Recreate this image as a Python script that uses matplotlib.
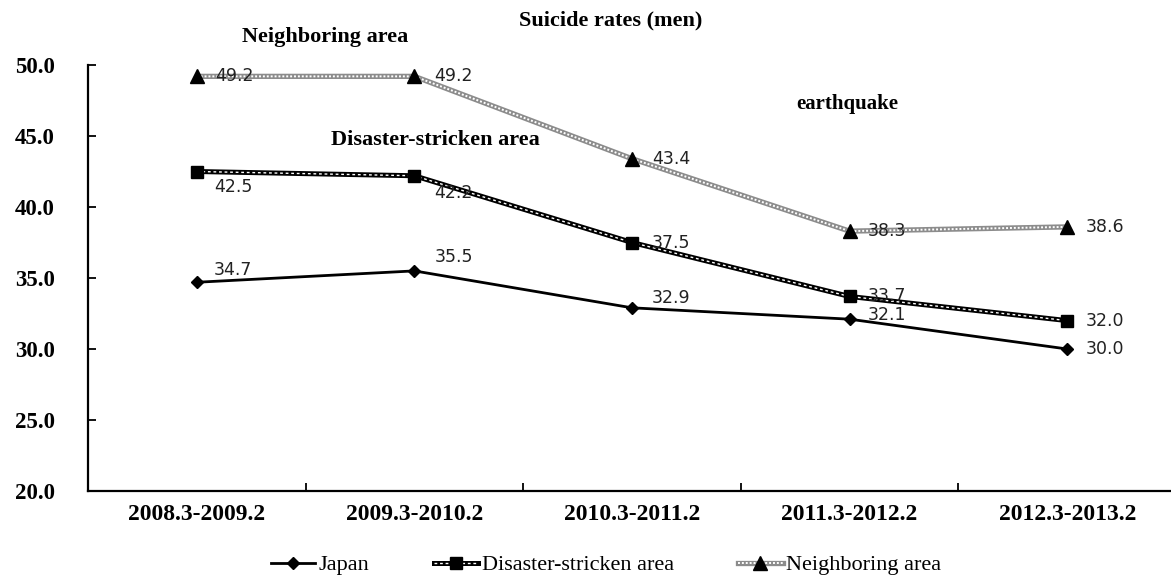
import matplotlib
matplotlib.use("Agg")
import matplotlib.pyplot as plt
from matplotlib.lines import Line2D

periods = ["2008.3-2009.2", "2009.3-2010.2", "2010.3-2011.2", "2011.3-2012.2", "2012.3-2013.2"]
japan = [34.7, 35.5, 32.9, 32.1, 30.0]
disaster = [42.5, 42.2, 37.5, 33.7, 32.0]
neighboring = [49.2, 49.2, 43.4, 38.3, 38.6]
yticks = [20.0, 25.0, 30.0, 35.0, 40.0, 45.0, 50.0]

SERIF = "Liberation Serif"
SANS = "DejaVu Sans"

fig = plt.figure(figsize=(11.71, 5.80), dpi=100)
ax = fig.add_axes([88 / 1171, 89 / 580, 1 - 88 / 1171, (491 - 65) / 580])

x = list(range(len(periods)))

# Japan: plain solid line with diamonds
ax.plot(x, japan, color="black", lw=2.0, marker="D", ms=6.5, zorder=4)

# Disaster-stricken area: black line with a dotted white core
ax.plot(x, disaster, color="black", lw=3.6, zorder=4, solid_capstyle="butt")
ax.plot(x, disaster, color="white", lw=1.0, ls=(0, (2, 2)), zorder=5)
ax.plot(x, disaster, ls="none", marker="s", ms=9, color="black", zorder=6)

# Neighboring area: grey double line with a dotted white core
ax.plot(x, neighboring, color="#8c8c8c", lw=3.8, zorder=4, solid_capstyle="butt")
ax.plot(x, neighboring, color="white", lw=1.4, ls=(0, (1, 1)), zorder=5)
ax.plot(x, neighboring, ls="none", marker="^", ms=10, color="black", zorder=6)

lab_kw = dict(fontsize=12.5, family=SANS, color="#222222", zorder=7)

# value labels
japan_off = [(17, 12), (20, 14), (20, 10), (18, 4), (18, 0)]
for xi, v, (dx, dy) in zip(x, japan, japan_off):
    ax.annotate(f"{v:.1f}", (xi, v), xytext=(dx, dy), textcoords="offset pixels",
                va="center", ha="left", **lab_kw)

disaster_off = [(17, -16), (20, -17), (20, 0), (18, 0), (18, 0)]
for xi, v, (dx, dy) in zip(x, disaster, disaster_off):
    ax.annotate(f"{v:.1f}", (xi, v), xytext=(dx, dy), textcoords="offset pixels",
                va="center", ha="left", **lab_kw)

neigh_off = [(18, 0), (20, 0), (20, 0), (18, 0), (18, 0)]
for xi, v, (dx, dy) in zip(x, neighboring, neigh_off):
    ax.annotate(f"{v:.1f}", (xi, v), xytext=(dx, dy), textcoords="offset pixels",
                va="center", ha="left", **lab_kw)

# axes styling
ax.set_ylim(20, 50)
ax.set_xlim(-0.5, 4.477)
ax.spines["top"].set_visible(False)
ax.spines["right"].set_visible(False)
for s in ("left", "bottom"):
    ax.spines[s].set_linewidth(1.6)

ax.set_yticks(yticks)
ax.set_yticklabels([f"{t:.1f}" for t in yticks], family=SERIF, fontweight="bold", fontsize=16.5)
ax.tick_params(axis="y", direction="in", length=6, width=1.3, pad=24)

ax.set_xticks([i + 0.5 for i in range(len(periods) - 1)])
ax.set_xticklabels([])
ax.set_xticks(x, minor=True)
ax.set_xticklabels(periods, minor=True, family=SERIF, fontweight="bold", fontsize=17)
ax.tick_params(axis="x", which="major", direction="in", length=6, width=1.3)
ax.tick_params(axis="x", which="minor", length=0, pad=9)

# titles and annotations
fig.text(611 / 1171, 1 - 20 / 580, "Suicide rates (men)", ha="center", va="center",
         family=SERIF, fontweight="bold", fontsize=16)
fig.text(325 / 1171, 1 - 37 / 580, "Neighboring area", ha="center", va="center",
         family=SERIF, fontweight="bold", fontsize=16)
fig.text(435 / 1171, 1 - 140 / 580, "Disaster-stricken area", ha="center", va="center",
         family=SERIF, fontweight="bold", fontsize=16)
fig.text(847 / 1171, 1 - 104 / 580, "earthquake", ha="center", va="center",
         family=SERIF, fontweight="bold", fontsize=15)

# legend
h_japan = Line2D([], [], color="black", lw=2.0, marker="D", ms=6.5)
h_dis = (Line2D([], [], color="black", lw=3.6),
         Line2D([], [], color="white", lw=1.0, ls=(0, (2, 2))),
         Line2D([], [], ls="none", marker="s", ms=9, color="black"))
h_nei = (Line2D([], [], color="#8c8c8c", lw=3.8),
         Line2D([], [], color="white", lw=1.4, ls=(0, (1, 1))),
         Line2D([], [], ls="none", marker="^", ms=10, color="black"))
fig.legend([h_japan, h_dis, h_nei], ["Japan", "Disaster-stricken area", "Neighboring area"],
           loc="center", bbox_to_anchor=(606 / 1171, 1 - 565 / 580), ncol=3, frameon=False,
           prop={"family": SERIF, "size": 16}, handlelength=2.0, handletextpad=0.15,
           columnspacing=2.9)

fig.savefig("out.png", dpi=100)
